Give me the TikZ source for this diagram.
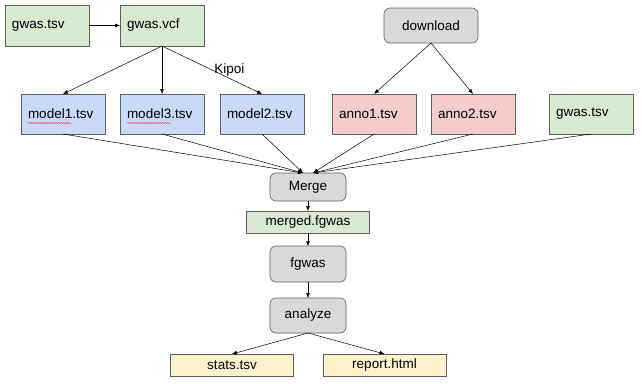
\documentclass[tikz,border=0pt]{standalone}
\usepackage{fontspec}
\setmainfont{Liberation Sans}
\usepackage{tikz}
\usetikzlibrary{arrows.meta,positioning,calc,decorations.pathmorphing}

\definecolor{edgegray}{HTML}{5F5F5F}
\definecolor{fgreen}{HTML}{D9EAD3}
\definecolor{fblue}{HTML}{C9DAF8}
\definecolor{fred}{HTML}{F4CCCC}
\definecolor{tgray}{HTML}{D9D9D9}
\definecolor{fyellow}{HTML}{FFF2CC}

\begin{document}
\begin{tikzpicture}[
    x=1pt, y=-1pt,
    >={Latex[length=5pt,width=4pt]},
    txt/.style={font=\fontsize{13.5}{16}\selectfont},
    file/.style={txt, draw=edgegray, line width=0.6pt, fill=#1, minimum height=40pt,
                 text width=70pt, inner xsep=7pt, inner ysep=0pt, outer sep=0pt, align=left},
    file/.default=fgreen,
    task/.style={txt, draw=edgegray, line width=0.6pt, fill=tgray, rounded corners=6pt,
                 minimum width=76pt, minimum height=#1, inner sep=0pt, outer sep=0pt, align=center},
    task/.default=35pt,
    result/.style={txt, draw=edgegray, line width=0.6pt, fill=#1, minimum width=123pt,
                   minimum height=22pt, inner sep=0pt, outer sep=0pt},
    result/.default=fyellow,
    arr/.style={->, line width=0.5pt},
    squiggle/.style={red!75, line width=0.4pt, decorate,
                     decoration={snake, amplitude=0.7pt, segment length=2.5pt}},
]
\useasboundingbox (0,0) rectangle (642,383);

% --- Top row ---
\node[file=fgreen, minimum height=41pt] (gwtsv) at (47,25.5) {gwas.tsv};
\node[file=fgreen, minimum height=41pt, right=31pt of gwtsv] (gwvcf) {gwas.vcf};
\node[task, minimum width=94pt] (down) at (431,25.5) {download};

% --- Second row ---
\node[file=fblue] (m1) at (63,114) {model1.tsv};
\node[file=fblue, right=15pt of m1] (m3) {model3.tsv};
\node[file=fblue, right=16pt of m3] (m2) {model2.tsv};
\node[file=fred, right=28pt of m2] (a1) {anno1.tsv};
\node[file=fred, right=15pt of a1] (a2) {anno2.tsv};
\node[file=fgreen, right=34pt of a2] (gw2) {gwas.tsv};

% spell-check marks
\draw[squiggle] ($(m1.west)+(7pt,-9pt)$) -- ++(44pt,0pt);
\draw[squiggle] ($(m3.west)+(7pt,-9pt)$) -- ++(44pt,0pt);

% --- Pipeline ---
\node[task=28pt] (merge) at (308,187) {Merge};
\node[result=fgreen, below=10pt of merge] (merged) {merged.fgwas};
\node[task=36pt, below=13pt of merged] (fgwas) {fgwas};
\node[task=35pt, below=16pt of fgwas] (analyze) {analyze};
\node[result=fyellow] (stats) at (232,365) {stats.tsv};
\node[result=fyellow] (report) at (384.5,365) {report.html};

% --- Arrows ---
\draw[arr] (gwtsv) -- (gwvcf);
\draw[arr] (gwvcf.south) -- (m1.north);
\draw[arr] (gwvcf.south) -- (m3.north);
\draw[arr] (gwvcf.south) -- (m2.north) node[txt, midway, right, inner sep=2pt] (kipoi) {Kipoi};
\draw[arr] (down.south) -- (a1.north);
\draw[arr] (down.south) -- (a2.north);

\foreach \src in {m1,m3,m2}
    \draw[arr] (\src.south) -- ([xshift=-5pt]merge.north);
\foreach \src in {a1,a2,gw2}
    \draw[arr] (\src.south) -- ([xshift=5pt]merge.north);

\draw[arr] (merge) -- (merged);
\draw[arr] (merged) -- (fgwas);
\draw[arr] (fgwas) -- (analyze);
\draw[arr] (analyze.south) -- (stats.north);
\draw[arr] (analyze.south) -- (report.north);

\end{tikzpicture}
\end{document}
